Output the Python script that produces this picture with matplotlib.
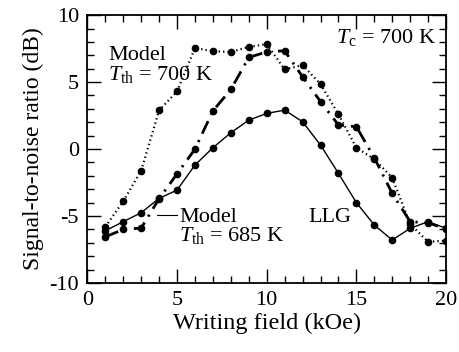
import matplotlib
matplotlib.use("Agg")
import matplotlib.pyplot as plt
from matplotlib.ticker import MultipleLocator

plt.rcParams['font.family'] = ['Liberation Serif', 'DejaVu Serif']
plt.rcParams['mathtext.fontset'] = 'custom'
plt.rcParams['mathtext.rm'] = 'Liberation Serif'
plt.rcParams['mathtext.it'] = 'Liberation Serif:italic'
plt.rcParams['axes.unicode_minus'] = False

# Writing field (kOe)
field = [1, 2, 3, 4, 5, 6, 7, 8, 9, 10, 11, 12, 13, 14, 15, 16, 17, 18, 19, 20]

# SNR (dB) for each model curve
snr_model_700 = [-5.8, -3.9, -1.6, 2.9, 4.3, 7.55, 7.3, 7.25, 7.63, 7.84,
                 5.95, 6.27, 4.85, 2.6, 0.1, -0.75, -2.14, -5.6, -6.92, -6.84]
snr_model_685 = [-6.1, -5.42, -4.75, -3.68, -3.06, -1.19, 0.1, 1.22, 2.16, 2.66,
                 2.91, 2.04, 0.3, -1.81, -4.0, -5.67, -6.79, -5.92, -5.42, -5.92]
snr_llg = [-6.55, -6.0, -5.9, -3.7, -1.85, 0.0, 2.85, 4.45, 6.84, 7.26,
           7.34, 5.4, 3.55, 1.8, 1.67, -0.65, -3.31, -5.42, -5.5, -5.97]

fig = plt.figure(figsize=(4.6, 3.52), dpi=100)
ax = fig.add_axes([0.190, 0.196, 0.7796, 0.761])

ms = 4.5
ax.plot(field, snr_model_700, color='black', linestyle=(0, (0.6, 1.4)), lw=1.6,
        marker='o', markersize=ms)
ax.plot(field, snr_model_685, color='black', linestyle='-', lw=1.0,
        marker='o', markersize=ms)
ax.plot(field, snr_llg, color='black', linestyle=(0, (5, 2.5, 0.8, 2.5)), lw=2.0,
        marker='o', markersize=ms)

ax.set_xlim(0, 20)
ax.set_ylim(-10, 10)
ax.xaxis.set_major_locator(MultipleLocator(5))
ax.xaxis.set_minor_locator(MultipleLocator(1))
ax.yaxis.set_major_locator(MultipleLocator(5))
ax.yaxis.set_minor_locator(MultipleLocator(1))
ax.tick_params(which='both', direction='in', top=True, right=True,
               width=1.0, labelsize=16, pad=6)
ax.tick_params(which='major', length=10)
ax.tick_params(which='minor', length=5)
for s in ax.spines.values():
    s.set_linewidth(1.3)

ax.set_xlabel('Writing field (kOe)', fontsize=17.5, labelpad=2)
ax.set_ylabel('Signal-to-noise ratio (dB)', fontsize=17, labelpad=4)

fs = 16
ax.text(1.15, 5.15, 'Model\n' + r'$T_{\rm th}$ = 700 K', fontsize=fs,
        va='baseline', ha='left', linespacing=0.95)
ax.text(19.45, 7.91, r'$T_{\rm c}$ = 700 K', fontsize=fs, va='baseline', ha='right')
ax.plot([3.87, 4.98], [-4.93, -4.93], color='black', lw=0.8)
ax.text(5.13, -6.85, 'Model\n' + r'$T_{\rm th}$ = 685 K', fontsize=fs,
        va='baseline', ha='left', linespacing=0.85)
ax.text(12.33, -5.43, 'LLG', fontsize=fs, va='baseline', ha='left')

fig.savefig('out.png', dpi=100)
